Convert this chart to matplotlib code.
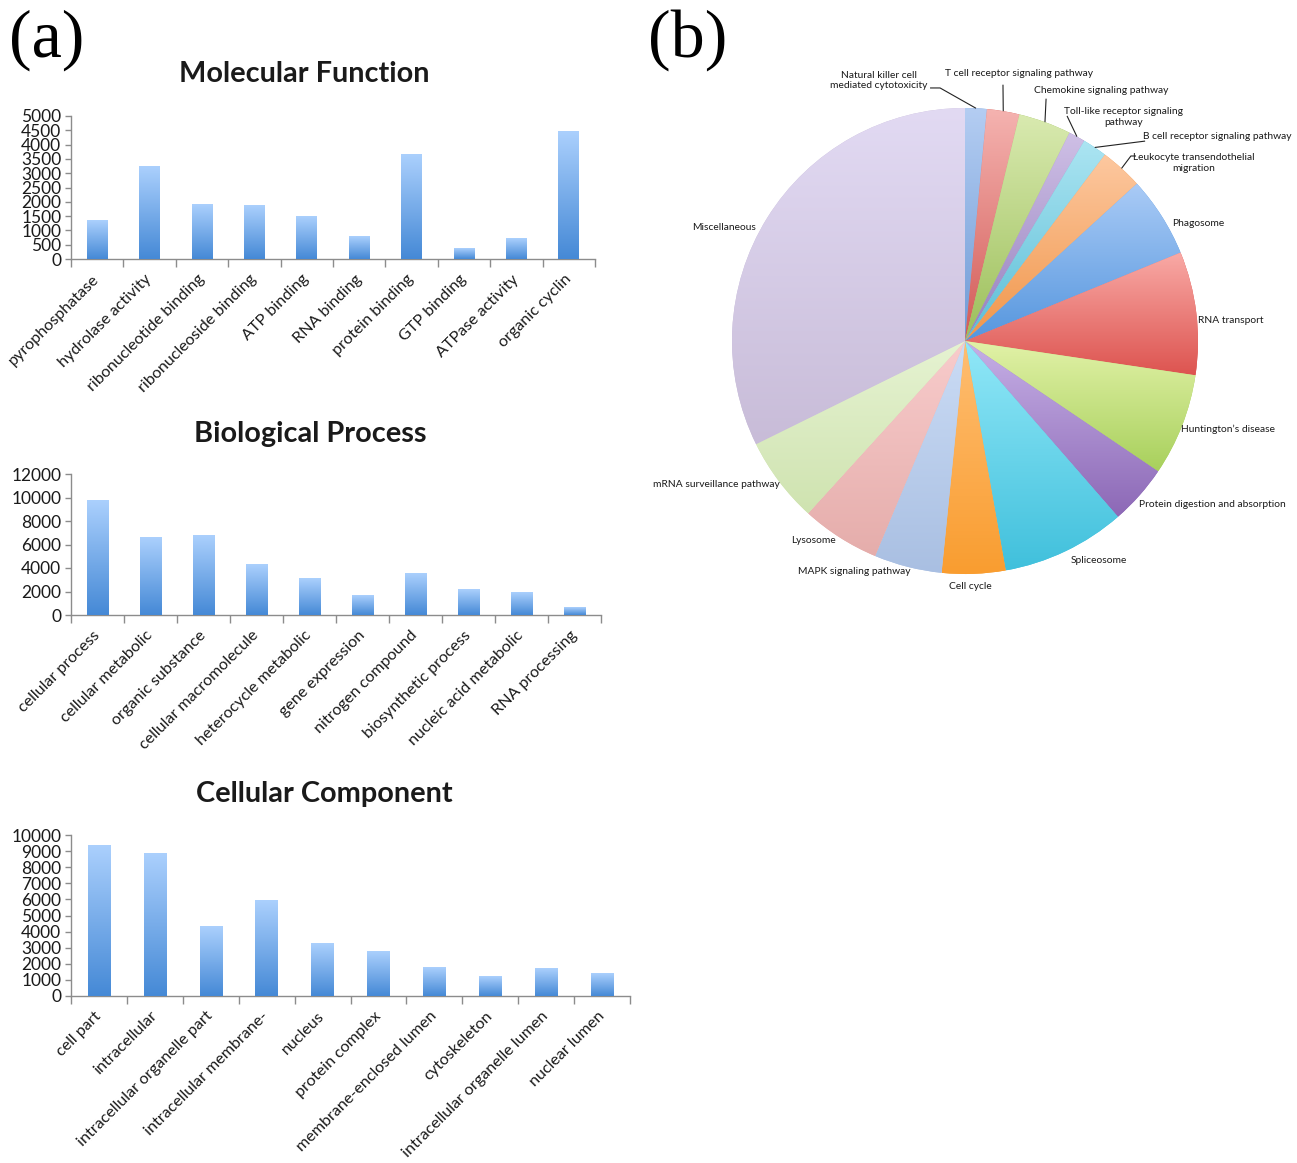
import numpy as np
import matplotlib
matplotlib.use("Agg")
import matplotlib.pyplot as plt
from matplotlib.colors import LinearSegmentedColormap

plt.rcParams['font.family'] = ['Lato', 'DejaVu Sans']

# ---------------- data ----------------
mf_terms = ["pyrophosphatase", "hydrolase activity", "ribonucleotide binding",
            "ribonucleoside binding", "ATP binding", "RNA binding", "protein binding",
            "GTP binding", "ATPase activity", "organic cyclin"]
mf_counts = [1350, 3240, 1890, 1870, 1470, 780, 3650, 370, 700, 4470]

bp_terms = ["cellular process", "cellular metabolic", "organic substance",
            "cellular macromolecule", "heterocycle metabolic", "gene expression",
            "nitrogen compound", "biosynthetic process", "nucleic acid metabolic",
            "RNA processing"]
bp_counts = [9740, 6620, 6760, 4330, 3070, 1630, 3520, 2210, 1890, 630]

cc_terms = ["cell part", "intracellular", "intracellular organelle part",
            "intracellular membrane-", "nucleus", "protein complex",
            "membrane-enclosed lumen", "cytoskeleton", "intracellular organelle lumen",
            "nuclear lumen"]
cc_counts = [9360, 8820, 4290, 5920, 3260, 2780, 1770, 1200, 1730, 1400]

pathways = ["Natural killer cell\nmediated cytotoxicity", "T cell receptor signaling pathway",
            "Chemokine signaling pathway", "Toll-like receptor signaling\npathway",
            "B cell receptor signaling pathway", "Leukocyte transendothelial\nmigration",
            "Phagosome", "RNA transport", "Huntington\u2019s disease",
            "Protein digestion and absorption", "Spliceosome", "Cell cycle",
            "MAPK signaling pathway", "Lysosome", "mRNA surveillance pathway",
            "Miscellaneous"]
pathway_share = [1.5, 2.25, 3.65, 1.15, 1.7, 2.95, 5.6, 8.55, 7.1, 4.15, 8.6, 4.4,
                 4.7, 5.45, 5.95, 32.3]

# ---------------- figure ----------------
W, H = 1297, 1163
fig = plt.figure(figsize=(W / 100, H / 100), dpi=100)
TXT = '#1a1a1a'
AXC = '#8c8c8c'


def px_axes(x0, y0, x1, y1):
    """Axes from a pixel box measured from the top-left corner."""
    return fig.add_axes([x0 / W, 1 - y1 / H, (x1 - x0) / W, (y1 - y0) / H])


bar_cmap = LinearSegmentedColormap.from_list('bar', ['#4589d6', '#abd0fd'])
grad = np.linspace(0, 1, 256).reshape(-1, 1)


def gradient_bars(ax, labels, values, ymax, step):
    n = len(values)
    x = np.arange(n)
    bars = ax.bar(x, values, width=0.4, color='#7fb0ec', linewidth=0, zorder=2)
    for b in bars:
        x0, w, h = b.get_x(), b.get_width(), b.get_height()
        ax.imshow(grad, extent=(x0, x0 + w, 0, h), origin='lower', cmap=bar_cmap,
                  aspect='auto', zorder=3, interpolation='bilinear')
    ax.set_xlim(-0.5, n - 0.5)
    ax.set_ylim(0, ymax)
    ax.set_xticks(x, labels, rotation=45, ha='right', va='center',
                  rotation_mode='anchor', fontsize=11.6, color=TXT)
    ax.set_xticks(np.arange(-0.5, n), minor=True)
    ax.tick_params(axis='x', which='major', length=0, pad=13)
    ax.tick_params(axis='x', which='minor', length=6, color=AXC, width=1)
    ax.set_yticks(np.arange(0, ymax + 1, step))
    ax.tick_params(axis='y', length=4, color=AXC, width=1, labelsize=12.5,
                   labelcolor=TXT, pad=3)
    for s in ('top', 'right'):
        ax.spines[s].set_visible(False)
    for s in ('left', 'bottom'):
        ax.spines[s].set_color(AXC)
        ax.spines[s].set_linewidth(1)


ax1 = px_axes(71, 116, 595, 259)
gradient_bars(ax1, mf_terms, mf_counts, 5000, 500)
ax2 = px_axes(71, 474, 601, 615)
gradient_bars(ax2, bp_terms, bp_counts, 12000, 2000)
ax3 = px_axes(71, 835, 630, 996)
gradient_bars(ax3, cc_terms, cc_counts, 10000, 1000)

title_kw = dict(fontsize=20.8, fontweight='bold', color=TXT, ha='center', va='center')
fig.text(304 / W, 1 - 74 / H, "Molecular Function", **title_kw)
fig.text(310 / W, 1 - 434 / H, "Biological Process", **title_kw)
fig.text(324 / W, 1 - 794 / H, "Cellular Component", **title_kw)

panel_kw = dict(fontsize=49, family=['Liberation Serif', 'DejaVu Serif'], color='black',
                ha='left', va='center')
fig.text(9 / W, 1 - 40 / H, "(a)", **panel_kw)
fig.text(648 / W, 1 - 40 / H, "(b)", **panel_kw)

# ---------------- pie ----------------
R = 233.0
cx, cy = 965, 341
lim = 1.4
axp = px_axes(cx - lim * R, cy - lim * R, cx + lim * R, cy + lim * R)

slice_colors = [
    ('#b4cdf2', '#6f9bd6'), ('#f5b3b0', '#d25a56'), ('#d9eab0', '#9cbf5a'),
    ('#cfc0e6', '#9580bd'), ('#ace5f2', '#5bbdd6'), ('#fdc8a0', '#f0964a'),
    ('#aacbf6', '#5596de'), ('#f9aaa6', '#dd5450'), ('#e2f2a8', '#a8d05c'),
    ('#c6b0e6', '#8c68b6'), ('#92e8f8', '#40c0dc'), ('#ffbe72', '#f99d30'),
    ('#cbdcf5', '#a9bfe2'), ('#f8cccc', '#e5adab'), ('#e6f3d2', '#cfe3b0'),
    ('#e2daf3', '#c8bcd8')]

wedges, _ = axp.pie(pathway_share, startangle=90, counterclock=False,
                    colors=[c[1] for c in slice_colors], radius=1,
                    wedgeprops=dict(linewidth=0))
for w, (light, dark) in zip(wedges, slice_colors):
    bb = w.get_path().get_extents()
    cm = LinearSegmentedColormap.from_list('s', [dark, light])
    im = axp.imshow(grad, extent=(bb.x0, bb.x1, bb.y0, bb.y1), origin='lower',
                    cmap=cm, aspect='auto', zorder=2, interpolation='bilinear')
    im.set_clip_path(w)
axp.set_xlim(-lim, lim)
axp.set_ylim(-lim, lim)
axp.set_aspect('equal')
axp.axis('off')

# label placements: (x, y, ha)
label_pos = [(-0.369, 1.118, 'center'), (0.232, 1.146, 'center'), (0.584, 1.073, 'center'),
             (0.682, 0.961, 'center'), (1.400, 0.876, 'right'), (0.983, 0.764, 'center'),
             (1.0, 0.506, 'center'), (1.142, 0.086, 'center'), (1.129, -0.378, 'center'),
             (1.06, -0.70, 'center'), (0.575, -0.944, 'center'), (0.021, -1.052, 'center'),
             (-0.476, -0.991, 'center'), (-0.652, -0.858, 'center'),
             (-1.069, -0.618, 'center'), (-1.034, 0.485, 'center')]
for name, (lx, ly, ha) in zip(pathways, label_pos):
    axp.text(lx, ly, name, fontsize=7.4, color=TXT, ha=ha, va='center',
             multialignment='center', linespacing=1.25, zorder=5)

# leader lines for the thin slices: start points beside their labels
leader_start = {0: [(-0.150, 1.086), (-0.107, 1.086)],
                1: [(0.163, 1.10)],
                2: [(0.348, 1.04)],
                3: [(0.438, 0.966)],
                4: [(0.773, 0.858)],
                5: [(0.734, 0.794), (0.712, 0.794)]}
for i, pts in leader_start.items():
    w = wedges[i]
    mid = np.deg2rad((w.theta1 + w.theta2) / 2)
    end = (np.cos(mid) * w.r, np.sin(mid) * w.r)
    xs = [p[0] for p in pts] + [end[0]]
    ys = [p[1] for p in pts] + [end[1]]
    axp.plot(xs, ys, color='#222222', lw=0.8, zorder=4, solid_capstyle='butt')

fig.savefig("out.png", dpi=100, facecolor='white')
